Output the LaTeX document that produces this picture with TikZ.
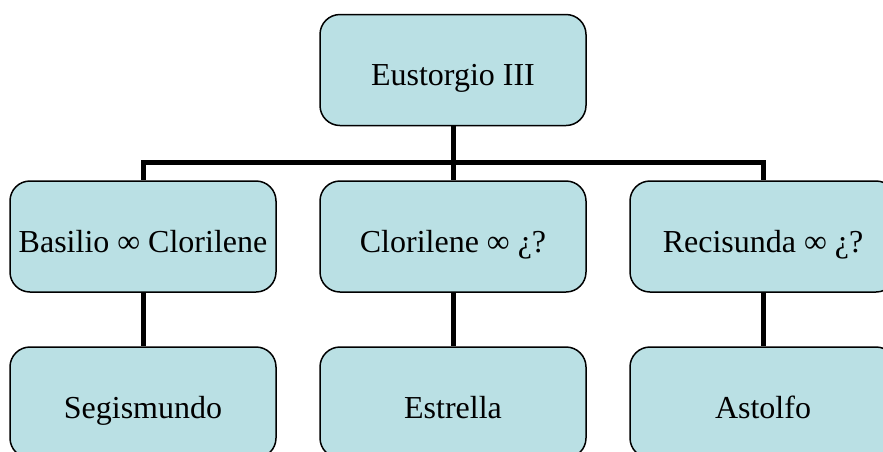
\documentclass[tikz,border=0pt]{standalone}
\usepackage{fontspec}
\setmainfont{Liberation Serif}
\definecolor{boxfill}{RGB}{186,224,228}

\begin{document}
\begin{tikzpicture}[x=1pt, y=-1pt, main/.style = {draw, fill=boxfill, line width=1.5pt, rounded corners=20pt, minimum width=266pt, minimum height=111pt, inner sep=0pt, text height=31pt, text depth=0pt, font=\fontsize{32}{38}\selectfont}, link/.style = {line width=5pt}]
		\useasboundingbox (0,0) rectangle (883,451);
		\clip (0,0) rectangle (883,451);
		
		\node[main] (1) at (453,70) {Eustorgio III};
		\node[main] (2) at (143,236.5) {Basilio ∞ Clorilene};
		\node[main] (3) at (453,236.5) {Clorilene ∞ ¿?};
		\node[main] (4) at (763,236.5) {Recisunda ∞ ¿?};
		\node[main] (5) at (143,402.5) {Segismundo};
		\node[main] (6) at (453,402.5) {Estrella};
		\node[main] (7) at (763,402.5) {Astolfo};
		\coordinate (bar) at (453,162);
		
		\draw[link] (1.south) -- (bar);
		\draw[link] (bar) -| (2.north);
		\draw[link] (bar) -| (4.north);
		\draw[link] (bar) -- (3.north);
		\draw[link] (2.south) -- (5.north);
		\draw[link] (3.south) -- (6.north);
		\draw[link] (4.south) -- (7.north);
	\end{tikzpicture}
\end{document}
